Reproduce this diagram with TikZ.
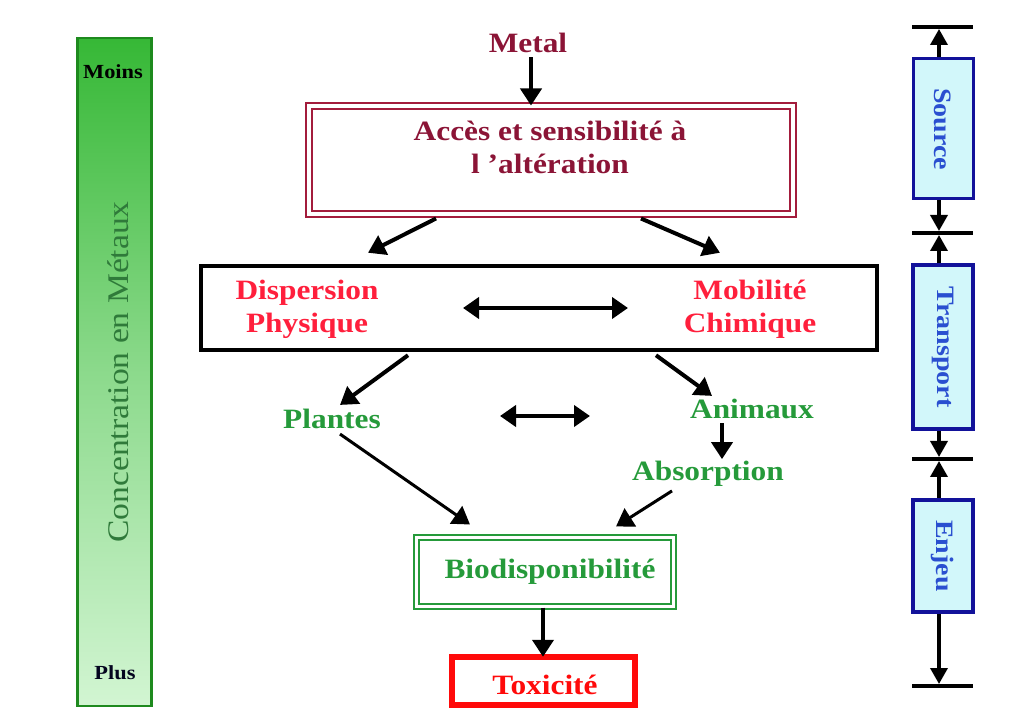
\documentclass[tikz,border=0pt]{standalone}
\usepackage{fontspec}
\setmainfont{Liberation Serif}[FakeStretch=1.12]
\usetikzlibrary{arrows.meta}

\definecolor{maroon}{HTML}{8B1436}
\definecolor{boxred}{HTML}{A31C3C}
\definecolor{brightred}{HTML}{FF1F3C}
\definecolor{toxred}{HTML}{FF0A0A}
\definecolor{leafgreen}{HTML}{259A3A}
\definecolor{bargreen}{HTML}{1E8A1E}
\definecolor{bartop}{HTML}{36B836}
\definecolor{barbot}{HTML}{D2F5D2}
\definecolor{bartext}{HTML}{2F7A3A}
\definecolor{navy}{HTML}{12129A}
\definecolor{stagefill}{HTML}{D2F7FA}
\definecolor{stagetext}{HTML}{2A4FD0}

\tikzset{
  big/.style={font=\fontsize{28}{33}\selectfont\bfseries, align=center, inner sep=0pt},
  arr/.style={line width=4pt, -{Triangle[length=17pt,width=21pt]}},
  darr/.style={line width=4.5pt, {Triangle[length=16pt,width=21pt]}-{Triangle[length=16pt,width=21pt]}},
  stage/.style={draw=navy, line width=3.5pt, fill=stagefill, minimum width=60pt,
    text=stagetext, font=\fontsize{25}{28}\selectfont\bfseries, inner sep=0pt},
  tick/.style={line width=4pt},
  stagearr/.style={line width=3.5pt, -{Triangle[length=16pt,width=17pt]}},
}

\begin{document}
\begin{tikzpicture}[x=1pt,y=-1pt]
\useasboundingbox (0,0) rectangle (1018,708);

% concentration scale on the left
\node[draw=bargreen, line width=2.5pt, top color=bartop, bottom color=barbot,
      middle color=bartop!45!barbot, minimum width=74pt, minimum height=668pt,
      inner sep=0pt] (bar) at (114.5,372) {};
\node[font=\fontsize{30}{30}\selectfont, text=bartext, rotate=90] (conc) at (118,372)
  {Concentration en Métaux};
\node[font=\fontsize{20}{20}\selectfont\bfseries, text=black] (moins) at (113,72) {Moins};
\node[font=\fontsize{20}{20}\selectfont\bfseries, text=black!80!navy] (plus) at (115,673) {Plus};

% central chain
\node[big, text=maroon] (metal) at (528,43) {Metal};
\node[draw=boxred, line width=2pt, double, double distance=4pt,
      minimum width=484pt, minimum height=108pt] (acc) at (551,160.5) {};
\node[big, text=maroon] (acctxt) at (550,147) {Accès et sensibilité à\\l 'altération};

\node[draw=black, line width=4.5pt, minimum width=676pt, minimum height=84pt] (mob) at (539,308) {};
\node[big, text=brightred] (disp) at (307,309) {Dispersion\\Physique};
\node[big, text=brightred] (chim) at (750,309) {Mobilité\\Chimique};

\node[big, text=leafgreen] (plantes) at (332,419) {Plantes};
\node[big, text=leafgreen] (animaux) at (752,409) {Animaux};
\node[big, text=leafgreen] (absorp) at (708,474) {Absorption};

\node[draw=leafgreen, line width=2pt, double, double distance=3.5pt,
      minimum width=257pt, minimum height=69pt] (bio) at (545,572) {};
\node[big, text=leafgreen] (biotxt) at (550,572) {Biodisponibilité};

\node[draw=toxred, line width=6.5pt, minimum width=183pt, minimum height=48pt] (tox) at (543.5,681) {};
\node[big, text=toxred] (toxtxt) at (545,685) {Toxicité};

% flow arrows
\draw[arr] ([xshift=3pt,yshift=-4pt]metal.south) -- ([xshift=-20pt]acc.north);
\draw[arr] ([xshift=-115pt,yshift=-3pt]acc.south) -- ([xshift=-171pt,yshift=11pt]mob.north);
\draw[arr] ([xshift=90pt,yshift=-3pt]acc.south) -- ([xshift=181pt,yshift=11pt]mob.north);
\draw[darr] ([xshift=-76pt]mob.center) -- ([xshift=89pt]mob.center);
\draw[arr] ([xshift=-131pt,yshift=-3pt]mob.south) -- ([xshift=8pt,yshift=4pt]plantes.north);
\draw[arr] ([xshift=117pt,yshift=-3pt]mob.south) -- ([xshift=-40pt,yshift=3pt]animaux.north);
\coordinate (pl) at (500,416);
\coordinate (pr) at (590,416);
\draw[darr] (pl) -- (pr);
\draw[arr] ([xshift=-30pt,yshift=-4pt]animaux.south) -- ([xshift=14pt,yshift=2pt]absorp.north);
\draw[arr, line width=3pt] ([xshift=8pt,yshift=-5pt]plantes.south) -- ([xshift=-75pt,yshift=12pt]bio.north);
\draw[arr, line width=3pt] ([xshift=-36pt,yshift=-4pt]absorp.south) -- ([xshift=71pt,yshift=10pt]bio.north);
\draw[arr, line width=4.5pt] ([xshift=-2pt]bio.south) -- ([xshift=-0.5pt,yshift=-3pt]tox.north);

% stage scale on the right
\coordinate (t0) at (939,27);
\coordinate (t1) at (939,233);
\coordinate (t2) at (939,459);
\coordinate (t3) at (939,686);
\foreach \t in {t0,t1,t2,t3}
  \draw[tick] ([xshift=-27pt]\t) -- ([xshift=34pt]\t);

\node[stage, minimum height=140pt, line width=3pt] (source) at (943,129)
  {\rotatebox{-90}{Source}};
\node[stage, minimum height=164pt] (transport) at (943,347)
  {\rotatebox{-90}{Transport}};
\node[stage, minimum height=112pt] (enjeu) at (943,556)
  {\rotatebox{-90}{Enjeu}};

\draw[stagearr] ([xshift=-4pt]source.north) -- ([yshift=-2pt]t0);
\draw[stagearr] ([xshift=-4pt]source.south) -- ([yshift=2pt]t1);
\draw[stagearr] ([xshift=-4pt]transport.north) -- ([yshift=-2pt]t1);
\draw[stagearr] ([xshift=-4pt]transport.south) -- ([yshift=2pt]t2);
\draw[stagearr] ([xshift=-4pt]enjeu.north) -- ([yshift=-2pt]t2);
\draw[stagearr] ([xshift=-4pt]enjeu.south) -- ([yshift=2pt]t3);
\end{tikzpicture}
\end{document}
